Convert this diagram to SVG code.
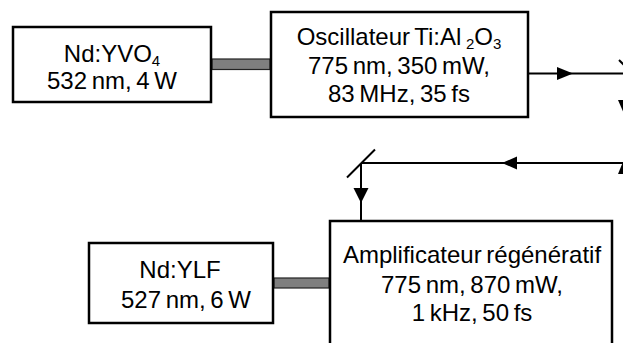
<svg xmlns="http://www.w3.org/2000/svg" width="623" height="343" viewBox="0 0 623 343">
<style>
.box{fill:#fff;stroke:#000;stroke-width:2.5}
.bar{fill:#7f7f7f;stroke:#222;stroke-width:1.2}
.t{font-family:"Liberation Sans",Arial,sans-serif;font-size:24px;fill:#000;text-anchor:middle;word-spacing:-2px}
.sub{font-size:15px}
.ln{fill:none;stroke:#000;stroke-width:2}
.ah{fill:#000}
</style>
<rect width="623" height="343" fill="#fff"/>
<g id="connectors">
<rect class="bar" x="212" y="59" width="58" height="10.5"/>
<rect class="bar" x="274" y="278" width="55" height="10"/>
<line class="ln" x1="528" y1="73.5" x2="640" y2="73.5"/>
<polygon class="ah" points="573,73.5 557,67 557,80"/>
<line class="ln" x1="619" y1="60" x2="649" y2="90"/>
<polygon class="ah" points="618,100 631,100 624.5,115"/>
<polygon class="ah" points="624.5,158 618,174 631,174"/>
<line class="ln" x1="361" y1="163" x2="640" y2="163"/>
<polygon class="ah" points="502,163 517,156.5 517,169.5"/>
<line class="ln" x1="347" y1="177.5" x2="375" y2="149.5"/>
<line class="ln" x1="361" y1="163" x2="361" y2="221"/>
<polygon class="ah" points="361,203 353.5,188 368.5,188"/>
</g>
<g id="nd-yvo4">
<rect class="box" x="13" y="27" width="198" height="75"/>
<text class="t" x="112" y="62">Nd:YVO<tspan class="sub" dy="4">4</tspan></text>
<text class="t" x="112" y="89">532 nm, 4 W</text>
</g>
<g id="oscillateur">
<rect class="box" x="271" y="12" width="257" height="105"/>
<text class="t" x="399" y="45">Oscillateur Ti:Al <tspan class="sub" dy="4">2</tspan><tspan dy="-4">O</tspan><tspan class="sub" dy="4">3</tspan></text>
<text class="t" x="399" y="74">775 nm, 350 mW,</text>
<text class="t" x="399" y="102">83 MHz, 35 fs</text>
</g>
<g id="nd-ylf">
<rect class="box" x="89" y="243" width="184" height="80"/>
<text class="t" x="180" y="278">Nd:YLF</text>
<text class="t" x="186" y="308">527 nm, 6 W</text>
</g>
<g id="amplificateur">
<rect class="box" x="330" y="221" width="282" height="135"/>
<text class="t" x="472" y="263">Amplificateur régénératif</text>
<text class="t" x="472" y="293">775 nm, 870 mW,</text>
<text class="t" x="472" y="321">1 kHz, 50 fs</text>
</g>
</svg>
